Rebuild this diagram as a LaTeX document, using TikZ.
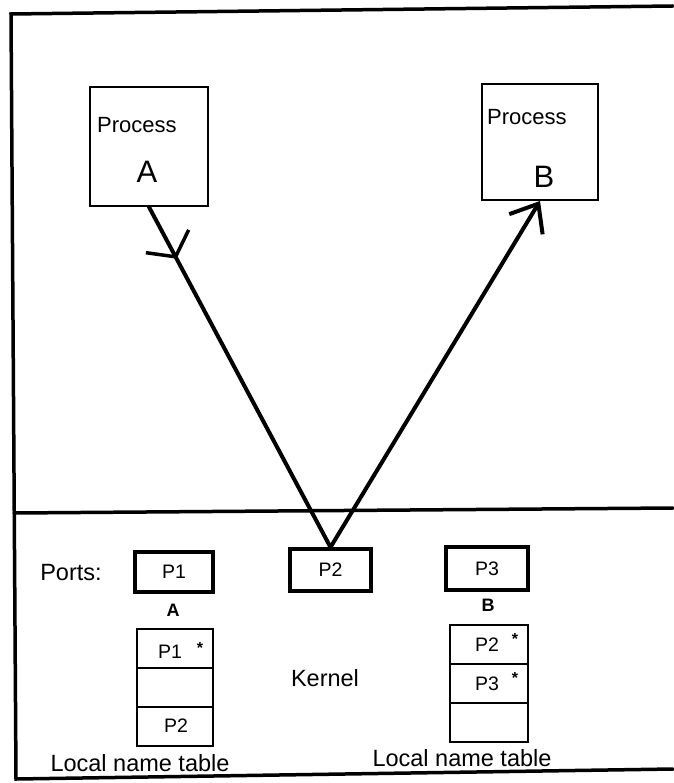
\documentclass[tikz,border=0pt]{standalone}
\usepackage{fontspec}
\setmainfont{Liberation Sans}
\usetikzlibrary{arrows.meta,decorations.markings}

\begin{document}
\begin{tikzpicture}[x=1pt,y=-1pt,
  frameline/.style={line width=3.5pt, line cap=round},
  procbox/.style={draw, line width=2pt, inner sep=0pt},
  portbox/.style={draw, line width=3.5pt, inner sep=0pt, font=\fontsize{19.5}{22}\selectfont},
  cellbox/.style={draw, line width=2pt, inner sep=0pt, minimum height=39pt},
  celltext/.style={inner sep=0pt, font=\fontsize{19.5}{22}\selectfont},
  startext/.style={inner sep=0pt, font=\fontsize{16}{18}\selectfont\bfseries},
  proctext/.style={inner sep=0pt, font=\fontsize{22}{26}\selectfont},
  procletter/.style={inner sep=0pt, font=\fontsize{31}{36}\selectfont},
  owner/.style={inner sep=0pt, font=\fontsize{18}{20}\selectfont\bfseries},
  plain/.style={inner sep=0pt, font=\fontsize{23.5}{27}\selectfont},
  conn/.style={line width=4pt, line cap=round, line join=round}
]
\useasboundingbox (0,0) rectangle (673,783);

% outer frame (open on the right) and user/kernel divider
\draw[frameline] (673,6) -- (11,14) -- (16,779) -- (673,769);
\draw[frameline] (14,513) -- (673,508);

% processes
\node[procbox, minimum width=118pt, minimum height=119pt] (procA) at (149,146.5) {};
\node[proctext, anchor=west] (procAtxt) at (97,125) {Process};
\node[procletter] (procAname) at (147,172) {A};

\node[procbox, minimum width=116pt, minimum height=116pt] (procB) at (540,142) {};
\node[proctext, anchor=west] (procBtxt) at (487,117) {Process};
\node[procletter] (procBname) at (544,177) {B};

% ports in the kernel
\node[plain] (portslbl) at (71,573) {Ports:};
\node[portbox, minimum width=78pt, minimum height=40pt] (P1) at (174,572) {P1};
\node[portbox, minimum width=81pt, minimum height=42pt] (P2) at (330.5,570) {P2};
\node[portbox, minimum width=82pt, minimum height=43pt] (P3) at (487,568.5) {P3};
\node[owner] (ownA) at (173,610) {A};
\node[owner] (ownB) at (488,605) {B};

% local name table of A
\node[cellbox, minimum width=76pt] (tA1) at (175,648.5) {};
\node[cellbox, minimum width=76pt] (tA2) at (175,687.5) {};
\node[cellbox, minimum width=76pt] (tA3) at (175,726.5) {};
\node[celltext] (tA1txt) at (170,652) {P1};
\node[startext] (tA1star) at (200,648) {*};
\node[celltext] (tA3txt) at (176,726) {P2};
\node[plain] (tAlbl) at (140,763) {Local name table};

% local name table of B
\node[cellbox, minimum width=78pt] (tB1) at (489,644.5) {};
\node[cellbox, minimum width=78pt] (tB2) at (489,683.5) {};
\node[cellbox, minimum width=78pt] (tB3) at (489,722.5) {};
\node[celltext] (tB1txt) at (487,645) {P2};
\node[startext] (tB1star) at (515,639) {*};
\node[celltext] (tB2txt) at (487,684) {P3};
\node[startext] (tB2star) at (515,678) {*};
\node[plain] (tBlbl) at (462,758) {Local name table};

\node[plain] (kernel) at (325,678) {Kernel};

% message path: A -> port P2 -> B
\draw[conn, postaction={decorate, decoration={markings,
    mark=at position 0.152 with {\arrow[line width=3.5pt, line cap=round]{Straight Barb[length=17.6pt,width=48.5pt]}}}}]
  (procA.south) -- (P2.north);
\draw[conn, -{Straight Barb[length=24pt,width=39pt]}] (P2.north) -- (procB.south);
\end{tikzpicture}
\end{document}
